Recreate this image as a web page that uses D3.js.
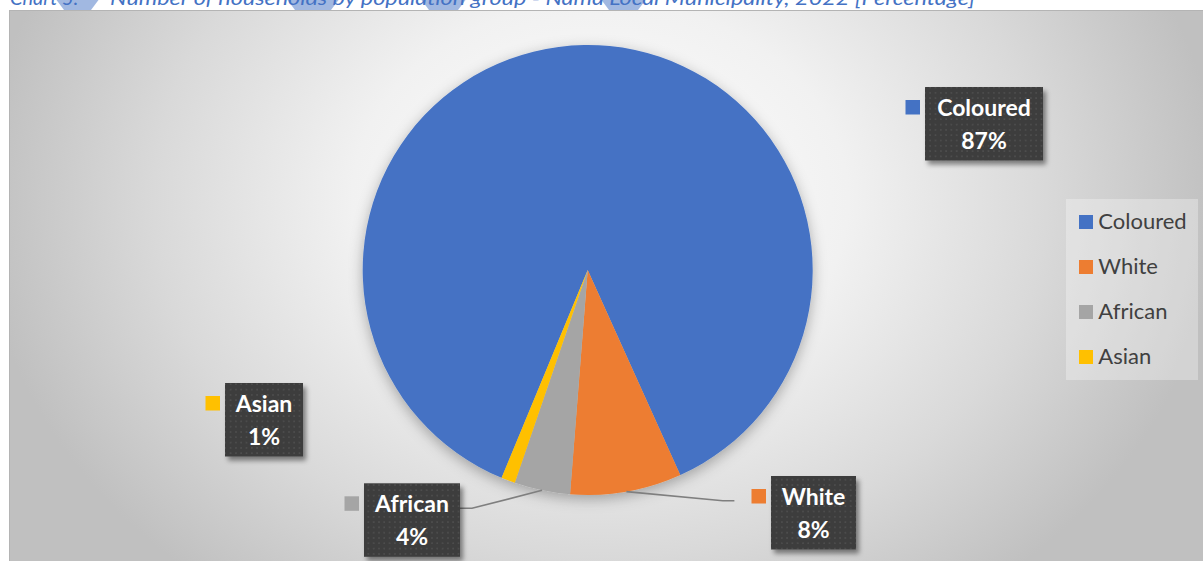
<!DOCTYPE html>
<html>
<head>
<meta charset="utf-8">
<script src="https://cdn.jsdelivr.net/npm/d3@7"></script>
<style>
  html, body { margin: 0; padding: 0; background: #ffffff; }
  svg { display: block; }
</style>
</head>
<body>
<svg id="chart" width="1203" height="561"></svg>
<script>
// Household share by population group (percent)
const categories = ["Coloured", "White", "African", "Asian"];
const values = [87, 8, 4, 1];
const colors = ["#4472c4", "#ed7d31", "#a5a5a5", "#ffc000"];
const titleLead = "Chart 5:";
const titleText = "Number of households by population group - Nama Local Municipality, 2022 [Percentage]";

// Layout
const W = 1203, H = 561;
const center = { x: 587.7, y: 270 };
const radius = 225;
const firstSliceDeg = 202.5;

// Callout boxes for the data labels: box left/top/width, optional leader elbow
const callouts = {
  "Coloured": { x: 925, y: 87, w: 118, leader: null },
  "White":    { x: 771, y: 476, w: 85, leader: [[722.8, 500.7], [734.4, 500.7]] },
  "African":  { x: 364, y: 483.3, w: 96, leader: [[472, 508.3], [459.8, 508.3]] },
  "Asian":    { x: 225, y: 383, w: 78, leader: null }
};

const svg = d3.select("#chart");
const defs = svg.append("defs");

// Chart-area background: soft radial fill, light near the upper middle
const bg = defs.append("radialGradient")
  .attr("id", "bgGrad")
  .attr("gradientUnits", "userSpaceOnUse")
  .attr("cx", 600).attr("cy", 200).attr("r", 620)
  .attr("fx", 600).attr("fy", 200)
  .attr("gradientTransform", "translate(600,200) scale(1,0.8) translate(-600,-200)");
[[0, "#ffffff"], [0.4, "#f1f1f1"], [0.72, "#d9d9d9"], [1, "#c0c0c0"]].forEach(([o, c]) =>
  bg.append("stop").attr("offset", o).attr("stop-color", c));

// Dotted dark fill for label callouts
const pat = defs.append("pattern")
  .attr("id", "dots").attr("patternUnits", "userSpaceOnUse")
  .attr("width", 5.3).attr("height", 5.3);
pat.append("rect").attr("width", 5.3).attr("height", 5.3).attr("fill", "#3d3d3d");
pat.append("rect").attr("x", 2).attr("y", 2).attr("width", 1.4).attr("height", 1.4).attr("fill", "#555555");

const boxShadow = defs.append("filter").attr("id", "boxShadow")
  .attr("x", "-20%").attr("y", "-20%").attr("width", "150%").attr("height", "150%");
boxShadow.append("feDropShadow").attr("dx", 3).attr("dy", 4).attr("stdDeviation", 2.5)
  .attr("flood-color", "#000").attr("flood-opacity", 0.45);

const pieShadow = defs.append("filter").attr("id", "pieShadow")
  .attr("x", "-20%").attr("y", "-20%").attr("width", "140%").attr("height", "140%");
pieShadow.append("feDropShadow").attr("dx", 0).attr("dy", 4).attr("stdDeviation", 7)
  .attr("flood-color", "#000").attr("flood-opacity", 0.3);

defs.append("clipPath").attr("id", "headerClip")
  .append("rect").attr("x", 0).attr("y", 0).attr("width", W).attr("height", 10);

// Header strip with the chart caption
const header = svg.append("g").attr("clip-path", "url(#headerClip)");
const blobs = [[52, 103], [283, 343], [417, 470], [597, 650]];
header.selectAll("path.blob").data(blobs).join("path")
  .attr("class", "blob")
  .attr("d", ([a, b]) => `M${a},-6 L${a + 12},10 L${b - 12},10 L${b},-6 Z`)
  .attr("fill", "#4472c4").attr("fill-opacity", 0.5);
const titleFont = { family: "Lato, sans-serif", size: 20 };
header.append("text")
  .attr("x", 10).attr("y", 5)
  .attr("font-family", titleFont.family).attr("font-style", "italic")
  .attr("font-size", titleFont.size).attr("fill", "#4472c4")
  .text(titleLead);
header.append("text")
  .attr("x", 110).attr("y", 5)
  .attr("font-family", titleFont.family).attr("font-style", "italic")
  .attr("font-size", titleFont.size).attr("fill", "#4472c4")
  .attr("textLength", 865).attr("lengthAdjust", "spacingAndGlyphs")
  .text(titleText);

// Chart area
svg.append("rect")
  .attr("x", 9.5).attr("y", 10.5).attr("width", W).attr("height", H)
  .attr("fill", "url(#bgGrad)").attr("stroke", "#b4b4b4").attr("stroke-width", 1);

// Pie
const pie = d3.pie().sort(null).value(d => d)
  .startAngle(firstSliceDeg * Math.PI / 180)
  .endAngle((firstSliceDeg + 360) * Math.PI / 180);
const arcs = pie(values);
const arc = d3.arc().innerRadius(0).outerRadius(radius);

const pieG = svg.append("g")
  .attr("transform", `translate(${center.x},${center.y})`)
  .attr("filter", "url(#pieShadow)");
pieG.selectAll("path").data(arcs).join("path")
  .attr("d", arc)
  .attr("fill", (d, i) => colors[i]);

// Leader lines from slice edges to their callouts
const edgePoint = d => {
  const a = (d.startAngle + d.endAngle) / 2;
  return [center.x + radius * Math.sin(a), center.y - radius * Math.cos(a)];
};
arcs.forEach((d, i) => {
  const c = callouts[categories[i]];
  if (!c.leader) return;
  const pts = [edgePoint(d), ...c.leader];
  svg.append("path")
    .attr("d", d3.line()(pts))
    .attr("fill", "none").attr("stroke", "#7f7f7f").attr("stroke-width", 1.6);
});

// Data-label callouts
arcs.forEach((d, i) => {
  const name = categories[i];
  const c = callouts[name];
  const g = svg.append("g");
  g.append("rect")
    .attr("x", c.x - 19.5).attr("y", c.y + 13).attr("width", 14.5).attr("height", 14.5)
    .attr("fill", colors[i]);
  g.append("rect")
    .attr("x", c.x).attr("y", c.y).attr("width", c.w).attr("height", 73.5)
    .attr("fill", "url(#dots)").attr("filter", "url(#boxShadow)");
  const t = g.append("text")
    .attr("text-anchor", "middle")
    .attr("font-family", "Lato, sans-serif").attr("font-weight", "bold")
    .attr("font-size", 23).attr("fill", "#ffffff");
  t.append("tspan").attr("x", c.x + c.w / 2).attr("y", c.y + 29).text(name);
  t.append("tspan").attr("x", c.x + c.w / 2).attr("y", c.y + 62).text(values[i] + "%");
});

// Legend
const legend = svg.append("g");
legend.append("rect")
  .attr("x", 1066).attr("y", 199).attr("width", 132).attr("height", 181)
  .attr("fill", "#ffffff").attr("fill-opacity", 0.3);
const items = legend.selectAll("g.item").data(categories).join("g")
  .attr("class", "item")
  .attr("transform", (d, i) => `translate(1079,${215 + i * 45})`);
items.append("rect").attr("width", 14).attr("height", 14)
  .attr("fill", (d, i) => colors[i]);
items.append("text")
  .attr("x", 19.3).attr("y", 13.5)
  .attr("font-family", "Lato, sans-serif").attr("font-size", 22)
  .attr("fill", "#404040")
  .text(d => d);
</script>
</body>
</html>
